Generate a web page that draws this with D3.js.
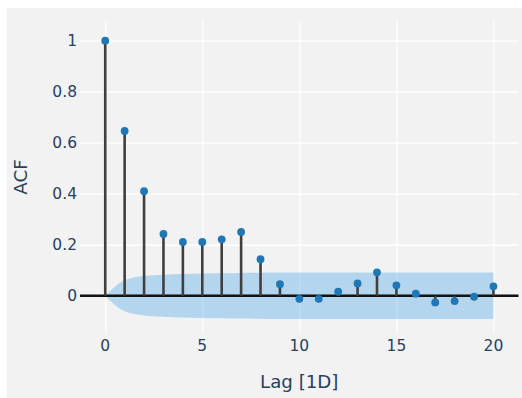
<!DOCTYPE html>
<html>
<head>
<meta charset="utf-8">
<script src="https://cdn.jsdelivr.net/npm/d3@7"></script>
<style>
    html, body { margin: 0; padding: 0; background: #ffffff; }
    svg { display: block; }
</style>
</head>
<body>
<div id="chart"></div>
<script>
    'use strict';

    // autocorrelation per lag
    var lags = [0, 1, 2, 3, 4, 5, 6, 7, 8, 9, 10, 11, 12, 13, 14, 15, 16, 17, 18, 19, 20];
    var acfValues = [1, 0.646, 0.41, 0.242, 0.211, 0.211, 0.221, 0.25, 0.143, 0.045,
        -0.012, -0.012, 0.016, 0.048, 0.092, 0.041, 0.008, -0.026, -0.021, -0.004, 0.037];
    // half-width of the confidence band per lag
    var bandUpper = [0, 0.061, 0.077, 0.082, 0.085, 0.087, 0.088, 0.089, 0.09, 0.091,
        0.091, 0.091, 0.091, 0.091, 0.091, 0.091, 0.091, 0.091, 0.091, 0.091, 0.091];
    var xTicks = [0, 5, 10, 15, 20];
    var yTicks = [0, 0.2, 0.4, 0.6, 0.8, 1];

    var width = 522, height = 398;
    var plot = {left: 80, right: 518.5, top: 21, bottom: 333};
    var font = "'DejaVu Sans', Verdana, sans-serif";
    var textColor = "#2a3f5f";

    var svg = d3.select("#chart")
        .append("svg")
        .attr("width", width)
        .attr("height", height);

    // grey panel
    svg.append("rect")
        .attr("x", 7)
        .attr("y", 8)
        .attr("width", width - 7)
        .attr("height", height - 8)
        .attr("fill", "#f2f2f2");

    var x = d3.scaleLinear().domain([-1.3, 21.29]).range([plot.left, plot.right]);
    var y = d3.scaleLinear().domain([-0.146, 1.077]).range([plot.bottom, plot.top]);

    // gridlines
    svg.append("g")
        .attr("transform", "translate(0," + plot.bottom + ")")
        .call(d3.axisBottom(x).tickValues(xTicks).tickSize(-(plot.bottom - plot.top)).tickFormat(""))
        .call(function (g) {
            g.select(".domain").remove();
            g.selectAll("line").attr("stroke", "#ffffff").attr("stroke-width", 1.3);
        });

    svg.append("g")
        .attr("transform", "translate(" + plot.left + ",0)")
        .call(d3.axisLeft(y).tickValues(yTicks.filter(function (d) { return d !== 0; }))
            .tickSize(-(plot.right - plot.left)).tickFormat(""))
        .call(function (g) {
            g.select(".domain").remove();
            g.selectAll("line").attr("stroke", "#ffffff").attr("stroke-width", 1.3);
        });

    // confidence band
    var bandData = lags.map(function (d, i) {
        return {lag: d, hi: bandUpper[i], lo: -bandUpper[i]};
    });
    var area = d3.area()
        .x(function (d) { return x(d.lag); })
        .y0(function (d) { return y(d.lo); })
        .y1(function (d) { return y(d.hi); })
        .curve(d3.curveMonotoneX);

    svg.append("path")
        .datum(bandData)
        .attr("d", area)
        .attr("fill", "rgba(32, 146, 230, 0.3)");

    // zero line
    svg.append("line")
        .attr("x1", plot.left)
        .attr("x2", plot.right)
        .attr("y1", y(0))
        .attr("y2", y(0))
        .attr("stroke", "#111111")
        .attr("stroke-width", 2.6);

    // stems
    svg.selectAll(".stem")
        .data(lags)
        .enter()
        .append("line")
        .attr("class", "stem")
        .attr("x1", function (d) { return x(d); })
        .attr("x2", function (d) { return x(d); })
        .attr("y1", y(0))
        .attr("y2", function (d, i) { return y(acfValues[i]); })
        .attr("stroke", "#3f3f3f")
        .attr("stroke-width", 2.6);

    // markers
    svg.selectAll(".dot")
        .data(lags)
        .enter()
        .append("circle")
        .attr("class", "dot")
        .attr("cx", function (d) { return x(d); })
        .attr("cy", function (d, i) { return y(acfValues[i]); })
        .attr("r", 3.9)
        .attr("fill", "#1f77b4");

    // tick labels
    svg.selectAll(".xlab")
        .data(xTicks)
        .enter()
        .append("text")
        .attr("class", "xlab")
        .attr("x", function (d) { return x(d); })
        .attr("y", 351)
        .attr("text-anchor", "middle")
        .attr("font-family", font)
        .attr("font-size", 15.5)
        .attr("fill", textColor)
        .text(function (d) { return d; });

    svg.selectAll(".ylab")
        .data(yTicks)
        .enter()
        .append("text")
        .attr("class", "ylab")
        .attr("x", 77)
        .attr("y", function (d) { return y(d); })
        .attr("dy", "0.36em")
        .attr("text-anchor", "end")
        .attr("font-family", font)
        .attr("font-size", 15.5)
        .attr("fill", textColor)
        .text(function (d) { return d; });

    // axis titles
    svg.append("text")
        .attr("x", (plot.left + plot.right) / 2)
        .attr("y", 388)
        .attr("text-anchor", "middle")
        .attr("font-family", font)
        .attr("font-size", 18.2)
        .attr("fill", textColor)
        .text("Lag [1D]");

    svg.append("text")
        .attr("transform", "translate(27," + ((plot.top + plot.bottom) / 2) + ") rotate(-90)")
        .attr("text-anchor", "middle")
        .attr("font-family", font)
        .attr("font-size", 18.2)
        .attr("fill", textColor)
        .text("ACF");
</script>
</body>
</html>
